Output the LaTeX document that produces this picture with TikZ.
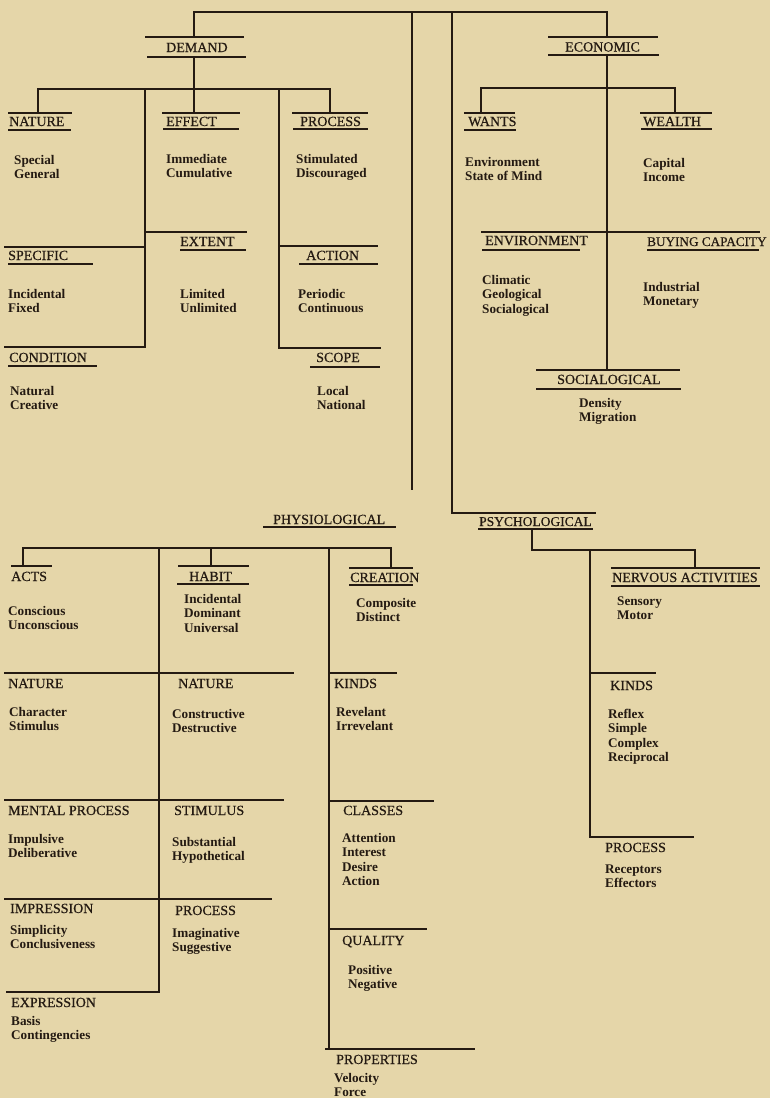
\documentclass[tikz,border=0pt]{standalone}
\usepackage{fontspec}
\setmainfont{Liberation Serif}
\newfontfamily\headfont[FakeBold=0.6]{Liberation Serif}
\definecolor{paper}{HTML}{E5D6A9}
\definecolor{ink}{HTML}{241A12}
\tikzset{
  ln/.style={draw=ink, line width=2.6pt, line cap=rect, line join=miter},
  bar/.style={draw=ink, line width=2.3pt},
  hd/.style={anchor=base west, inner sep=0pt, text=ink, font=\headfont\fontsize{14}{15}\selectfont},
  itm/.style={anchor=base west, inner sep=0pt, text=ink, font=\fontsize{13.2}{15}\selectfont\bfseries},
}
% list of lines under a heading: name, x, first baseline, lines
\newcommand\itemlines[4]{%
  \foreach \t [count=\i from 0] in {#4}{\node[itm] (#1-\i) at (#2,{#3+14.6*\i}) {\t};}}
\begin{document}
\begin{tikzpicture}[x=1pt, y=-1pt]
\fill[paper] (0,0) rectangle (770,1098);
\useasboundingbox (0,0) rectangle (770,1098);

% ---------- main frame ----------
\coordinate (tl) at (194,12);
\coordinate (tr) at (607,12);
\draw[ln] (194,37) -- (tl) -- (tr) -- (607,37);
\draw[ln] (412,12) -- (412,489);
\draw[ln] (452,12) -- (452,513) -- (595,513);

% ---------- DEMAND ----------
\node[hd] (demand) at (166,52) {DEMAND};
\draw[bar] (145,37) -- (244,37);
\draw[bar] (147,57) -- (246,57);
\draw[ln] (194,57) -- (194,113);
\draw[ln] (38,113) -- (38,89) -- (330,89) -- (330,113);
\draw[ln] (145,89) -- (145,347);
\draw[ln] (279,89) -- (279,348);

\node[hd] (dnature) at (9,126) {NATURE};
\draw[bar] (8,113) -- (72,113); \draw[bar] (8,130) -- (71,130);
\itemlines{dnat}{14}{164}{Special,General}

\node[hd] (effect) at (166,126) {EFFECT};
\draw[bar] (162,113) -- (240,113); \draw[bar] (163,129) -- (239,129);
\itemlines{eff}{166}{163}{Immediate,Cumulative}

\node[hd] (dprocess) at (300,126) {PROCESS};
\draw[bar] (292,113) -- (368,113); \draw[bar] (293,129) -- (368,129);
\itemlines{dproc}{296}{163}{Stimulated,Discouraged}

\node[hd] (specific) at (8,260) {SPECIFIC};
\draw[ln] (5,247) -- (145,247); \draw[bar] (8,264) -- (93,264);
\itemlines{spec}{8}{298}{Incidental,Fixed}

\node[hd] (extent) at (180,246) {EXTENT};
\draw[ln] (145,232) -- (246,232); \draw[bar] (180,250) -- (246,250);
\itemlines{ext}{180}{298}{Limited,Unlimited}

\node[hd] (action) at (306,260) {ACTION};
\draw[ln] (279,246) -- (377,246); \draw[bar] (299,264) -- (378,264);
\itemlines{act}{298}{298}{Periodic,Continuous}

\node[hd] (condition) at (9,362) {CONDITION};
\draw[ln] (5,347) -- (145,347); \draw[bar] (8,366) -- (97,366);
\itemlines{cond}{10}{395}{Natural,Creative}

\node[hd] (scope) at (316,362) {SCOPE};
\draw[ln] (279,348) -- (380,348); \draw[bar] (310,367) -- (380,367);
\itemlines{scp}{317}{395}{Local,National}

% ---------- ECONOMIC ----------
\node[hd] (economic) at (565,51.5) {ECONOMIC};
\draw[bar] (548,37) -- (658,37); \draw[bar] (548,55) -- (659,55);
\draw[ln] (607,55) -- (607,370);
\draw[ln] (481,113) -- (481,88) -- (675,88) -- (675,113);

\node[hd] (wants) at (468,126) {WANTS};
\draw[bar] (464,113) -- (515,113); \draw[bar] (464,130) -- (516,130);
\itemlines{wnt}{465}{166}{Environment,State of Mind}

\node[hd] (wealth) at (643,126) {WEALTH};
\draw[bar] (640,113) -- (712,113); \draw[bar] (641,129) -- (712,129);
\itemlines{wlt}{643}{167}{Capital,Income}

\draw[ln] (482,232) -- (759,232);
\node[hd] (environment) at (485,245) {ENVIRONMENT};
\draw[bar] (482,250) -- (580,250);
\itemlines{env}{482}{284}{Climatic,Geological,Socialogical}

\node[hd, font=\headfont\fontsize{13.2}{15}\selectfont] (buying) at (647,246) {BUYING CAPACITY};
\draw[bar] (647,250) -- (759,250);
\itemlines{buy}{643}{291}{Industrial,Monetary}

\node[hd] (socialogical) at (557,384) {SOCIALOGICAL};
\draw[bar] (536,370) -- (680,370); \draw[bar] (536,389) -- (681,389);
\itemlines{soc}{579}{407}{Density,Migration}

% ---------- PSYCHOLOGICAL ----------
\node[hd, font=\headfont\fontsize{13.5}{15}\selectfont] (psychological) at (479,526) {PSYCHOLOGICAL};
\draw[bar] (478,529) -- (593,529);
\draw[ln] (532,529) -- (532,550) -- (695,550) -- (695,568);
\draw[ln] (590,550) -- (590,837);

\node[hd] (nervous) at (612,582) {NERVOUS ACTIVITIES};
\draw[bar] (611,568) -- (760,568); \draw[bar] (611,586) -- (760,586);
\itemlines{nrv}{617}{605}{Sensory,Motor}

\node[hd] (pkinds) at (610,690) {KINDS};
\draw[ln] (590,673) -- (655,673);
\itemlines{pkd}{608}{718}{Reflex,Simple,Complex,Reciprocal}

\node[hd] (pprocess) at (605,852) {PROCESS};
\draw[ln] (590,837) -- (693,837);
\itemlines{ppr}{605}{873}{Receptors,Effectors}

% ---------- PHYSIOLOGICAL ----------
\node[hd] (physiological) at (273,524) {PHYSIOLOGICAL};
\draw[bar] (263,527) -- (396,527);
\draw[ln] (23,566) -- (23,548) -- (391,548) -- (391,568);
\draw[ln] (211,548) -- (211,566);
\draw[ln] (159,548) -- (159,992);
\draw[ln] (329,548) -- (329,1049);

\node[hd] (acts) at (11,581) {ACTS};
\draw[bar] (11,566) -- (52,566);
\itemlines{acts}{8}{615}{Conscious,Unconscious}

\node[hd] (habit) at (189,581) {HABIT};
\draw[bar] (178,566) -- (249,566); \draw[bar] (177,584) -- (249,584);
\itemlines{hab}{184}{603}{Incidental,Dominant,Universal}

\node[hd] (creation) at (350,582) {CREATION};
\draw[bar] (349,568) -- (413,568); \draw[bar] (349,585) -- (413,585);
\itemlines{cre}{356}{607}{Composite,Distinct}

\draw[ln] (5,673) -- (293,673);
\node[hd] (lnature) at (8,688) {NATURE};
\itemlines{lnat}{9}{716}{Character,Stimulus}
\node[hd] (mnature) at (178,688) {NATURE};
\itemlines{mnat}{172}{718}{Constructive,Destructive}

\node[hd] (ckinds) at (334,688) {KINDS};
\draw[ln] (329,673) -- (396,673);
\itemlines{ckd}{336}{716}{Revelant,Irrevelant}

\draw[ln] (5,800) -- (283,800);
\node[hd] (mental) at (8,815) {MENTAL PROCESS};
\itemlines{men}{8}{843}{Impulsive,Deliberative}
\node[hd] (stimulus) at (174,815) {STIMULUS};
\itemlines{stm}{172}{846}{Substantial,Hypothetical}

\node[hd] (classes) at (343,815) {CLASSES};
\draw[ln] (329,801) -- (433,801);
\itemlines{cls}{342}{842}{Attention,Interest,Desire,Action}

\draw[ln] (5,899) -- (271,899);
\node[hd] (impression) at (10,913) {IMPRESSION};
\itemlines{imp}{10}{934}{Simplicity,Conclusiveness}
\node[hd] (mprocess) at (175,915) {PROCESS};
\itemlines{mpr}{172}{937}{Imaginative,Suggestive}

\node[hd] (quality) at (342,945) {QUALITY};
\draw[ln] (329,929) -- (426,929);
\itemlines{qul}{348}{974}{Positive,Negative}

\node[hd] (expression) at (11,1007) {EXPRESSION};
\draw[ln] (7,992) -- (159,992);
\itemlines{exp}{11}{1025}{Basis,Contingencies}

\node[hd] (properties) at (336,1064) {PROPERTIES};
\draw[ln] (326,1049) -- (474,1049);
\itemlines{prp}{334}{1082}{Velocity,Force}
\end{tikzpicture}
\end{document}
